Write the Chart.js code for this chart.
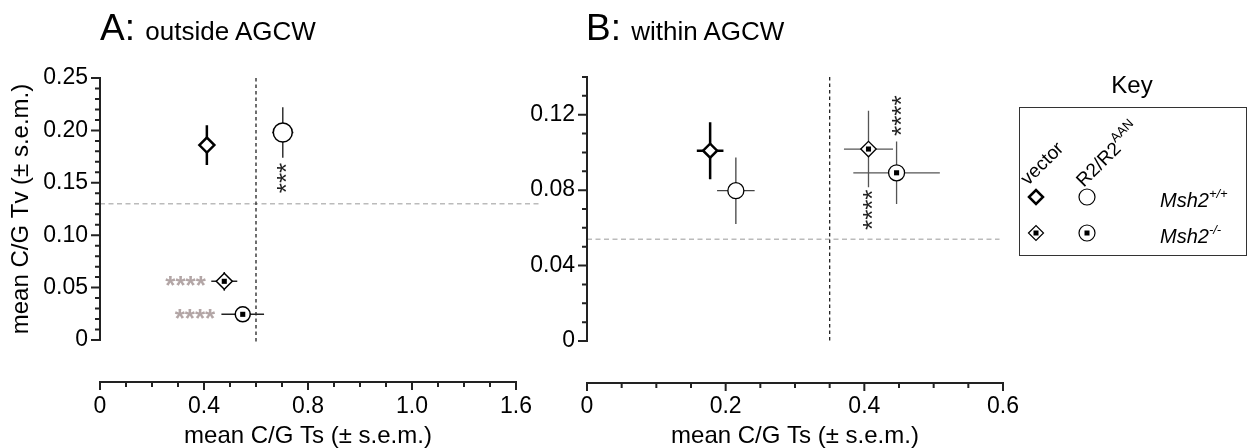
<!DOCTYPE html>
<html>
<head>
<meta charset="utf-8">
<script src="https://cdn.jsdelivr.net/npm/chart.js@4.4.1/dist/chart.umd.min.js"></script>
<style>
    body { margin: 0; background: #fff; font-family: "Liberation Sans", Arial, Helvetica, sans-serif; color: #000; }
    #wrap { position: relative; width: 1250px; height: 448px; overflow: hidden; }
    canvas { position: absolute; left: 0; top: 0; }
    .panel-title { position: absolute; top: 9px; font-size: 37px; line-height: 37px; white-space: nowrap; }
    .panel-title span { font-size: 26px; }
    .rot { position: absolute; font-size: 19px; line-height: 19px; white-space: nowrap; transform-origin: 0 16px; transform: rotate(-45deg); }
    .rot sup { font-size: 13px; position: relative; top: -2px; }
    .geno { position: absolute; left: 1160px; font-size: 20px; line-height: 20px; font-style: italic; white-space: nowrap; }
    .geno sup { font-size: 13px; position: relative; top: -1px; }
</style>
</head>
<body>
<div id="wrap">
    <canvas id="chartA" width="1250" height="448"></canvas>
    <canvas id="chartB" width="1250" height="448"></canvas>

    <div class="panel-title" style="left:100px;">A: <span>outside AGCW</span></div>
    <div class="panel-title" style="left:586px;">B: <span>within AGCW</span></div>

    <!-- key -->
    <div style="position:absolute;left:1082px;top:73px;width:100px;text-align:center;font-size:24px;line-height:24px;">Key</div>
    <div style="position:absolute;left:1019px;top:107px;width:228px;height:149px;border:1px solid #333;box-sizing:border-box;"></div>
    <div class="rot" style="left:1028px;top:170px;">vector</div>
    <div class="rot" style="left:1080px;top:168px;">R2/R2<sup>AAN</sup></div>
    <div class="geno" style="top:185px;">Msh2<sup>+/+</sup></div>
    <div class="geno" style="top:221px;">Msh2<sup>-/-</sup></div>
</div>

<script>
// series order: vector Msh2+/+, R2/R2AAN Msh2+/+, vector Msh2-/-, R2/R2AAN Msh2-/-
const seriesNames = ['vector Msh2+/+', 'R2/R2AAN Msh2+/+', 'vector Msh2-/-', 'R2/R2AAN Msh2-/-'];

// panel A - outside AGCW
const tsA = [0.411, 0.703, 0.478, 0.549];
const tsErrA = [0.012, 0.041, 0.050, 0.082];
const tvA = [0.186, 0.198, 0.056, 0.0245];
const tvErrA = [0.019, 0.024, 0.009, 0.002];

// panel B - within AGCW
const tsB = [0.1776, 0.2147, 0.406, 0.4465];
const tsErrB = [0.0192, 0.0271, 0.0354, 0.0624];
const tvB = [0.1009, 0.0797, 0.1018, 0.0892];
const tvErrB = [0.0151, 0.0176, 0.0203, 0.0166];

// dashed reference lines (Ts, Tv)
const refTsA = 0.6, refTvA = 0.13;
const refTsB = 0.35, refTvB = 0.054;

// significance marks
const sigTextA = ['****', '****', '***'];
const sigXA = [0.407, 0.443, 0.70];
const sigYA = [0.056, 0.0245, 0.1546];
const sigTextB = ['****', '****'];
const sigXB = [0.4465, 0.406];
const sigYB = [0.1195, 0.0696];

// ticks
const xTicksA = [0, 0.4, 0.8, 1.2, 1.6];
const xTickLabelsA = ['0', '0.4', '0.8', '1.0', '1.6'];
const yTicksA = [0, 0.05, 0.10, 0.15, 0.20, 0.25];
const yTickLabelsA = ['0', '0.05', '0.10', '0.15', '0.20', '0.25'];
const xTicksB = [0, 0.2, 0.4, 0.6];
const xTickLabelsB = ['0', '0.2', '0.4', '0.6'];
const yTicksB = [0, 0.04, 0.08, 0.12];
const yTickLabelsB = ['0', '0.04', '0.08', '0.12'];

const FONT = '"Liberation Sans", Arial, Helvetica, sans-serif';
Chart.defaults.font.family = FONT;
Chart.defaults.color = '#000';

// marker + error bar looks
const stylesA = [
    { pointStyle: 'rectRot', r: 7.5, bw: 2.5, dot: false, bar: '#000', barW: 2.5 },
    { pointStyle: 'circle', r: 9.5, bw: 1.5, dot: false, bar: '#333', barW: 1.5 },
    { pointStyle: 'rectRot', r: 8, bw: 1.5, dot: true, bar: '#222', barW: 1.5 },
    { pointStyle: 'circle', r: 7.5, bw: 1.5, dot: true, bar: '#222', barW: 1.5 }
];
const stylesB = [
    { pointStyle: 'rectRot', r: 7, bw: 2.5, dot: false, bar: '#000', barW: 2.5 },
    { pointStyle: 'circle', r: 8, bw: 1.3, dot: false, bar: '#444', barW: 1.3 },
    { pointStyle: 'rectRot', r: 7.7, bw: 1.3, dot: true, bar: '#555', barW: 1.3 },
    { pointStyle: 'circle', r: 8, bw: 1.3, dot: true, bar: '#555', barW: 1.3 }
];

function makeDatasets(xs, ys, styles) {
    var dots = [];
    var marks = [];
    xs.forEach(function(x, i) {
        var st = styles[i];
        marks.push({
            label: seriesNames[i],
            data: [{ x: x, y: ys[i] }],
            pointStyle: st.pointStyle,
            pointRadius: st.r,
            pointBorderWidth: st.bw,
            pointBackgroundColor: '#fff',
            pointBorderColor: '#000'
        });
        if (st.dot) {
            dots.push({
                label: seriesNames[i] + ' centre',
                data: [{ x: x, y: ys[i] }],
                pointStyle: 'rect',
                pointRadius: 3.6,
                pointBorderWidth: 0,
                pointBackgroundColor: '#000',
                pointBorderColor: '#000'
            });
        }
    });
    // first datasets are drawn on top
    return dots.concat(marks);
}

function errorBars(xs, xe, ys, ye, styles) {
    return {
        id: 'errorBars',
        beforeDatasetsDraw(chart) {
            var ctx = chart.ctx, sx = chart.scales.x, sy = chart.scales.y;
            ctx.save();
            xs.forEach(function(x, i) {
                ctx.strokeStyle = styles[i].bar;
                ctx.lineWidth = styles[i].barW;
                ctx.beginPath();
                ctx.moveTo(sx.getPixelForValue(x - xe[i]), sy.getPixelForValue(ys[i]));
                ctx.lineTo(sx.getPixelForValue(x + xe[i]), sy.getPixelForValue(ys[i]));
                ctx.moveTo(sx.getPixelForValue(x), sy.getPixelForValue(ys[i] - ye[i]));
                ctx.lineTo(sx.getPixelForValue(x), sy.getPixelForValue(ys[i] + ye[i]));
                ctx.stroke();
            });
            ctx.restore();
        }
    };
}

function refLines(ts, tv, hEnd, vBottom) {
    return {
        id: 'refLines',
        beforeDatasetsDraw(chart) {
            var ctx = chart.ctx, sx = chart.scales.x, sy = chart.scales.y;
            ctx.save();
            ctx.lineWidth = 1.5;
            ctx.strokeStyle = '#bbb';
            ctx.setLineDash([5, 3.5]);
            ctx.beginPath();
            ctx.moveTo(sx.getPixelForValue(0), sy.getPixelForValue(tv));
            ctx.lineTo(sx.getPixelForValue(hEnd), sy.getPixelForValue(tv));
            ctx.stroke();
            ctx.strokeStyle = '#222';
            ctx.lineWidth = 1.3;
            ctx.setLineDash([3.5, 3]);
            ctx.beginPath();
            ctx.moveTo(sx.getPixelForValue(ts), sy.getPixelForValue(sy.max));
            ctx.lineTo(sx.getPixelForValue(ts), sy.getPixelForValue(vBottom));
            ctx.stroke();
            ctx.restore();
        }
    };
}

function sigMarks(texts, xs, ys, colors, vertical, bold) {
    return {
        id: 'sigMarks',
        afterDatasetsDraw(chart) {
            var ctx = chart.ctx, sx = chart.scales.x, sy = chart.scales.y;
            texts.forEach(function(t, i) {
                ctx.save();
                ctx.font = (bold[i] ? 'bold ' : '') + '26px ' + FONT;
                ctx.fillStyle = colors[i];
                ctx.textBaseline = 'alphabetic';
                var m = ctx.measureText(t);
                var c = (m.actualBoundingBoxAscent - m.actualBoundingBoxDescent) / 2;
                ctx.translate(sx.getPixelForValue(xs[i]), sy.getPixelForValue(ys[i]));
                if (vertical[i]) {
                    ctx.rotate(-Math.PI / 2);
                    ctx.textAlign = 'center';
                } else {
                    ctx.textAlign = 'right';
                }
                ctx.fillText(t, 0, c);
                ctx.restore();
            });
        }
    };
}

function axesPlugin(xTicks, xMinor, yTicks, yMinor, gap) {
    return {
        id: 'gpAxes',
        afterDraw(chart) {
            var ctx = chart.ctx, sx = chart.scales.x, sy = chart.scales.y;
            var left = chart.chartArea.left;
            var axisY = chart.chartArea.bottom + gap;
            ctx.save();
            ctx.strokeStyle = '#222';
            ctx.lineWidth = 2;
            ctx.beginPath();
            ctx.moveTo(left, sy.getPixelForValue(sy.max) - 1);
            ctx.lineTo(left, sy.getPixelForValue(0) + 1);
            ctx.moveTo(sx.getPixelForValue(0) - 1, axisY);
            ctx.lineTo(sx.getPixelForValue(sx.max) + 1, axisY);
            var v, p;
            for (v = 0; v <= sy.max + 1e-9; v += yMinor) {
                p = sy.getPixelForValue(v);
                var major = yTicks.some(function(t) { return Math.abs(t - v) < 1e-6; });
                ctx.moveTo(left, p);
                ctx.lineTo(left - (major ? 9 : 5), p);
            }
            for (v = 0; v <= sx.max + 1e-9; v += xMinor) {
                p = sx.getPixelForValue(v);
                var majorX = xTicks.some(function(t) { return Math.abs(t - v) < 1e-6; });
                ctx.moveTo(p, axisY);
                ctx.lineTo(p, axisY + (majorX ? 8 : 5));
            }
            ctx.stroke();
            ctx.restore();
        }
    };
}

function keySymbols() {
    return {
        id: 'keySymbols',
        afterDraw(chart) {
            var ctx = chart.ctx;
            ctx.save();
            ctx.strokeStyle = '#000';
            ctx.fillStyle = '#fff';
            function diamond(x, y, r, w) {
                ctx.lineWidth = w;
                ctx.beginPath();
                ctx.moveTo(x - r, y); ctx.lineTo(x, y - r); ctx.lineTo(x + r, y); ctx.lineTo(x, y + r); ctx.closePath();
                ctx.fill(); ctx.stroke();
            }
            function circle(x, y, r, w) {
                ctx.lineWidth = w;
                ctx.beginPath();
                ctx.arc(x, y, r, 0, Math.PI * 2);
                ctx.fill(); ctx.stroke();
            }
            diamond(1036, 197, 7, 2.5);
            circle(1087, 197, 8, 1.2);
            diamond(1036, 233, 7.5, 1.2);
            circle(1087, 233, 8, 1.2);
            ctx.fillStyle = '#000';
            ctx.fillRect(1033.5, 230.5, 5, 5);
            ctx.fillRect(1084.5, 230.5, 5, 5);
            ctx.restore();
        }
    };
}

function tickFont() { return { family: FONT, size: 23, lineHeight: 1 }; }

// panel A
new Chart(document.getElementById('chartA'), {
    type: 'scatter',
    data: { datasets: makeDatasets(tsA, tvA, stylesA) },
    options: {
        responsive: false,
        animation: false,
        events: [],
        layout: { padding: { left: 0, top: 78, right: 734, bottom: 0 } },
        plugins: { legend: { display: false }, tooltip: { enabled: false } },
        scales: {
            x: {
                type: 'linear', min: 0, max: 1.6,
                afterBuildTicks: function(s) { s.ticks = xTicksA.map(function(v) { return { value: v }; }); },
                afterFit: function(s) { s.height = 108; },
                grid: { display: false, drawTicks: false },
                border: { display: false },
                ticks: { padding: 55, font: tickFont(), color: '#000', autoSkip: false, maxRotation: 0,
                    callback: function(v, i) { return xTickLabelsA[i]; } },
                title: { display: true, text: 'mean C/G Ts (± s.e.m.)', color: '#000',
                    font: { family: FONT, size: 24, lineHeight: 1 }, padding: { top: 0, bottom: 0 } }
            },
            y: {
                type: 'linear', min: 0, max: 0.25,
                afterBuildTicks: function(s) { s.ticks = yTicksA.map(function(v) { return { value: v }; }); },
                afterFit: function(s) { s.width = 100; },
                grid: { display: false, drawTicks: false },
                border: { display: false },
                ticks: { padding: 12, font: tickFont(), color: '#000', autoSkip: false,
                    callback: function(v, i) { return yTickLabelsA[i]; } },
                title: { display: true, text: 'mean C/G Tv (± s.e.m.)', color: '#000',
                    font: { family: FONT, size: 24, lineHeight: 1 }, padding: { top: 9, bottom: 0 } }
            }
        }
    },
    plugins: [
        refLines(refTsA, refTvA, 1.69, -0.003),
        errorBars(tsA, tsErrA, tvA, tvErrA, stylesA),
        sigMarks(sigTextA, sigXA, sigYA, ['#b3a6a6', '#b3a6a6', '#222'], [false, false, true], [true, true, false]),
        axesPlugin(xTicksA, 0.1, yTicksA, 0.01, 42)
    ]
});

// panel B
new Chart(document.getElementById('chartB'), {
    type: 'scatter',
    data: { datasets: makeDatasets(tsB, tvB, stylesB) },
    options: {
        responsive: false,
        animation: false,
        events: [],
        layout: { padding: { left: 0, top: 77, right: 247, bottom: 0 } },
        plugins: { legend: { display: false }, tooltip: { enabled: false } },
        scales: {
            x: {
                type: 'linear', min: 0, max: 0.6,
                afterBuildTicks: function(s) { s.ticks = xTicksB.map(function(v) { return { value: v }; }); },
                afterFit: function(s) { s.height = 107; },
                grid: { display: false, drawTicks: false },
                border: { display: false },
                ticks: { padding: 54, font: tickFont(), color: '#000', autoSkip: false, maxRotation: 0,
                    callback: function(v, i) { return xTickLabelsB[i]; } },
                title: { display: true, text: 'mean C/G Ts (± s.e.m.)', color: '#000',
                    font: { family: FONT, size: 24, lineHeight: 1 }, padding: { top: 0, bottom: 0 } }
            },
            y: {
                type: 'linear', min: 0, max: 0.14,
                afterBuildTicks: function(s) { s.ticks = yTicksB.map(function(v) { return { value: v }; }); },
                afterFit: function(s) { s.width = 587; },
                grid: { display: false, drawTicks: false },
                border: { display: false },
                ticks: { padding: 12, font: tickFont(), color: '#000', autoSkip: false,
                    callback: function(v, i) { return yTickLabelsB[i]; } }
            }
        }
    },
    plugins: [
        refLines(refTsB, refTvB, 0.595, -0.001),
        errorBars(tsB, tsErrB, tvB, tvErrB, stylesB),
        sigMarks(sigTextB, sigXB, sigYB, ['#222', '#222'], [true, true], [false, false]),
        axesPlugin(xTicksB, 0.05, yTicksB, 0.01, 42),
        keySymbols()
    ]
});
</script>
</body>
</html>
